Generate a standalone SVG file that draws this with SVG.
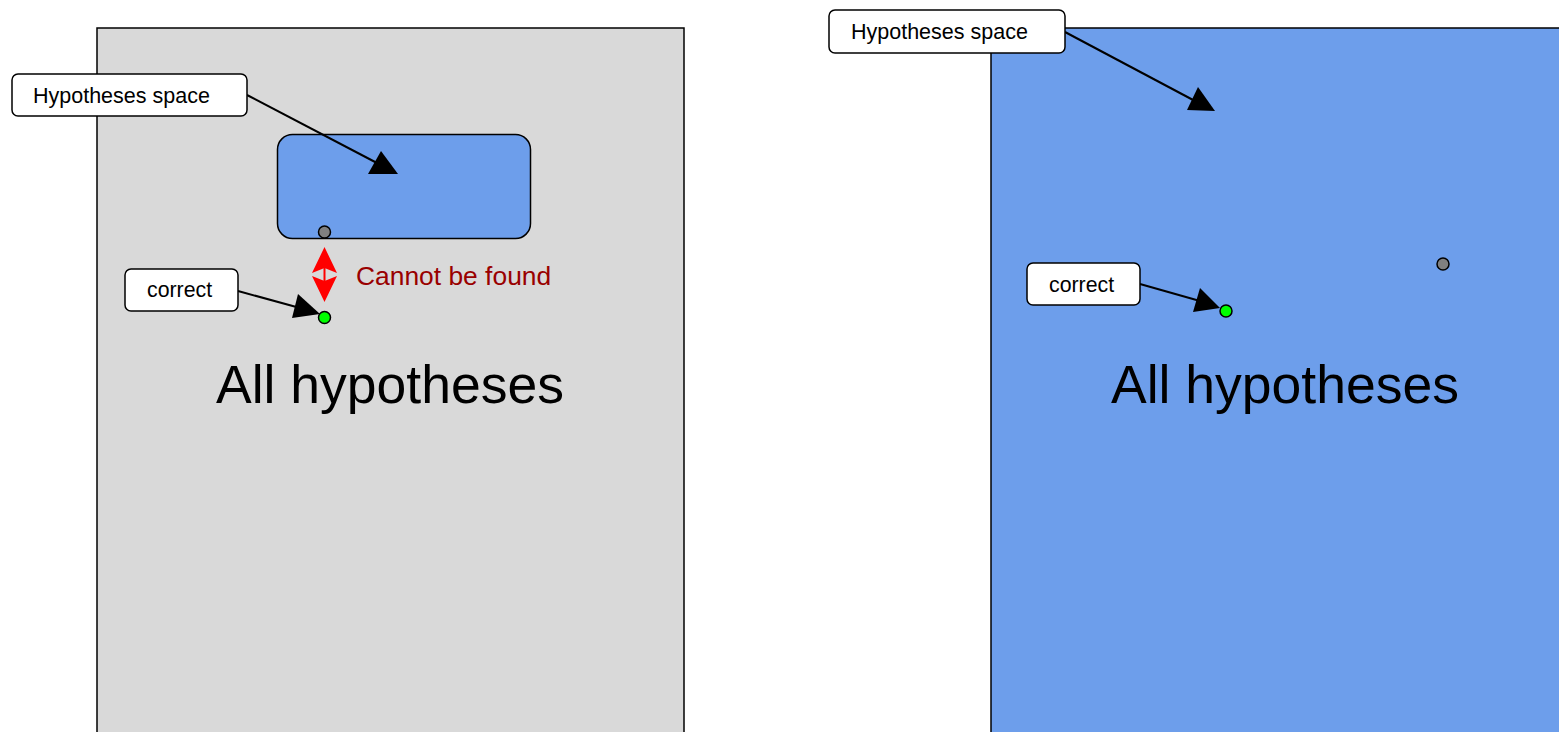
<svg xmlns="http://www.w3.org/2000/svg" width="1559" height="732" viewBox="0 0 1559 732">
<style>
.lbl{fill:#fff;stroke:#000;stroke-width:1.5}
.t{font-family:"Liberation Sans",Arial,sans-serif;fill:#000}
.big{font-family:"Liberation Sans",Arial,sans-serif;font-size:53.5px;fill:#000}
.ln{stroke:#000;stroke-width:2;fill:none}
.dot{stroke:#000;stroke-width:1.5}
</style>
<rect width="1559" height="732" fill="#fff"/>
<g id="all-left">
<rect x="97" y="28" width="587" height="720" fill="#d9d9d9" stroke="#000" stroke-width="1.5"/>
<text class="big" x="216" y="403">All hypotheses</text>
</g>
<g id="space-left">
<rect x="277.5" y="134.5" width="253" height="104" rx="15" fill="#6d9eeb" stroke="#000" stroke-width="1.5"/>
</g>
<g id="all-right">
<rect x="991" y="28" width="600" height="720" fill="#6d9eeb" stroke="#000" stroke-width="1.5"/>
<text class="big" x="1111" y="403">All hypotheses</text>
</g>
<g id="dot-gray-left"><circle class="dot" cx="324.5" cy="232" r="6" fill="#808080"/></g>
<g id="dot-green-left"><circle class="dot" cx="324.5" cy="317.5" r="6" fill="#00ff00"/></g>
<g id="dot-gray-right"><circle class="dot" cx="1443" cy="264" r="6" fill="#808080"/></g>
<g id="dot-green-right"><circle class="dot" cx="1226" cy="311" r="6" fill="#00ff00"/></g>
<g id="connectors">
<line class="ln" x1="247" y1="95" x2="377" y2="163"/>
<polygon points="381,151 368,174 398,174" fill="#000"/>
<line class="ln" x1="238" y1="291" x2="300" y2="308"/>
<polygon points="298,294 292,318 320,314" fill="#000"/>
<line class="ln" x1="1065" y1="32" x2="1195" y2="101"/>
<polygon points="1198,87 1187,110 1215,111" fill="#000"/>
<line class="ln" x1="1140" y1="284" x2="1200" y2="301"/>
<polygon points="1200,288 1193,312 1220,308" fill="#000"/>
<line x1="324.5" y1="260" x2="324.5" y2="290" stroke="#ff0000" stroke-width="2"/>
<polygon points="324.5,247 337,273 324.5,268 312,273" fill="#ff0000"/>
<polygon points="324.5,302 337,276 324.5,281 312,276" fill="#ff0000"/>
</g>
<g id="label-space-left">
<rect class="lbl" x="12" y="74" width="235" height="42" rx="6"/>
<text class="t" x="33" y="103" font-size="21.5">Hypotheses space</text>
</g>
<g id="label-correct-left">
<rect class="lbl" x="125" y="269" width="113" height="42" rx="6"/>
<text class="t" x="147" y="297" font-size="21.3">correct</text>
</g>
<g id="label-space-right">
<rect class="lbl" x="829" y="10" width="236" height="43" rx="6"/>
<text class="t" x="851" y="39" font-size="21.5">Hypotheses space</text>
</g>
<g id="label-correct-right">
<rect class="lbl" x="1027" y="263" width="113" height="42" rx="6"/>
<text class="t" x="1049" y="292" font-size="21.3">correct</text>
</g>
<g id="label-cannot">
<text x="356" y="285" font-family="Liberation Sans,Arial,sans-serif" font-size="26.4" fill="#990000">Cannot be found</text>
</g>
</svg>
